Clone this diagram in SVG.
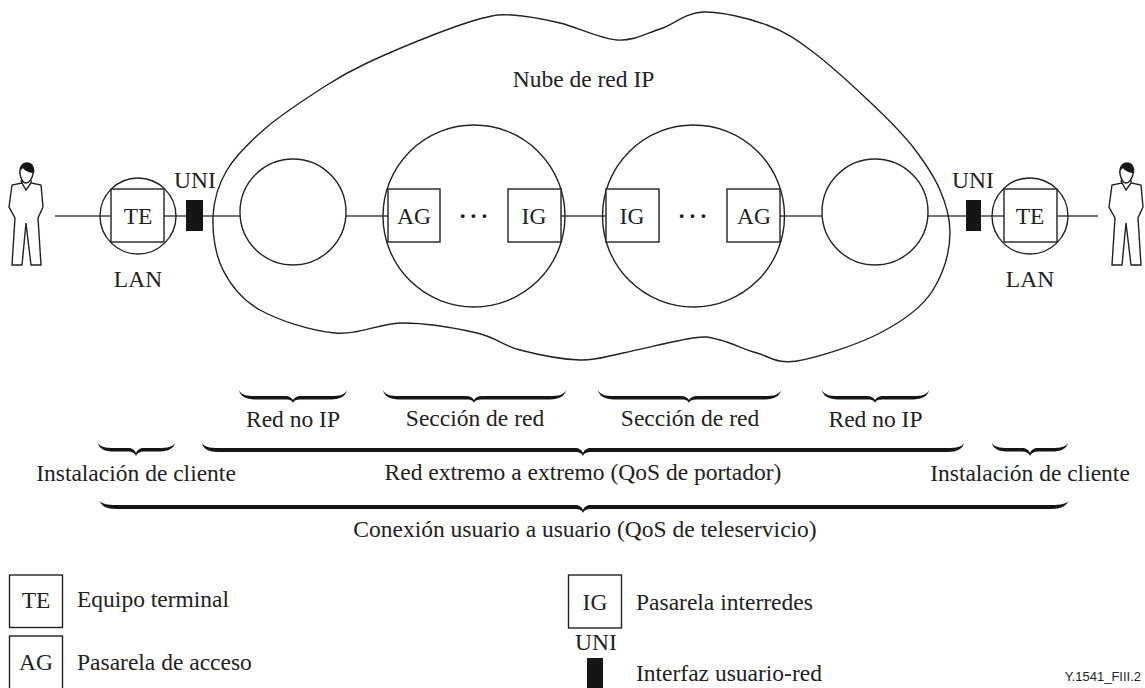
<svg xmlns="http://www.w3.org/2000/svg" width="1145" height="688" viewBox="0 0 1145 688">
<style>
text{font-family:"Liberation Serif","Times New Roman",serif;font-size:23.5px;fill:#222;text-anchor:middle}
.l{text-anchor:start}
.d{font-weight:bold;letter-spacing:3px}
.s{fill:#fff;stroke:#222;stroke-width:1.4}
.n{fill:none;stroke:#222;stroke-width:1.4}
.b{fill:#151515}
.c{fill:none;stroke:#444;stroke-width:1.6}
</style>
<defs>
<g id="person"><path class="n" d="M20 174C19 167 23 163 27 163C32 163 35 168 33 174C32 179 29 183 26 183C23 183 21 179 20 174Z"/><path class="b" d="M20 171C20 165 24 163 27 163C32 163 34 168 33 173C29 173 24 170 23 168C22 169 21 170 20 171Z"/><path class="n" d="M21 180L22 183L12 185L9 207L15 218L12 265H22L26 223L31 265H41L38 218L43 207L41 185L31 183L31 180M22 183L26 190L31 183"/></g>
</defs>
<g id="connectors">
<path class="c" d="M55 216H111M164 216H186M203 216H240M346 216H388M561 216H606M780 216H822M928 216H966M981 216H1004M1057 216H1098"/>
</g>
<g id="cloud"><path class="n" d="M213 217C213.7 200.3 218 185 227 170S250.3 141.2 267 127S310.3 95.7 327 85S349.3 71.3 367 63S413.7 42.5 433 35S469.8 21.3 483 18S499.2 14.2 512 15S542.5 18.8 560 23S600.3 39 617 40S645.7 33.7 660 29S685.2 12.7 703 12S748.7 18.3 767 25S795.8 39.2 813 52S853.3 86.2 870 102S900.2 130.7 913 147C926 164 934 176 940 190C946 204 950 218 950 232C950 254 944 272 933 290S902.7 321.2 880 333S817.5 357.7 797 361S769.8 356.5 757 353S730.7 342.5 720 340S709.2 335.8 693 338S641.8 349.3 623 353S597.2 360.5 580 360S537.2 354.5 520 350S496.5 337.5 477 333S426.7 323 403 323S358.8 335.2 335 333S278.7 320.5 260 310S230.8 285.5 223 270S212.3 233.7 213 217Z"/><text x="583.5" y="87">Nube de red IP</text></g>
<g id="lan-left"><circle class="n" cx="138" cy="216" r="38"/><rect class="s" x="111" y="189" width="53" height="53"/><text x="138" y="224">TE</text><text x="138" y="287">LAN</text></g>
<g id="uni-left"><rect class="b" x="186" y="200" width="17" height="31"/><text x="195" y="188">UNI</text></g>
<g id="noip-left"><circle class="n" cx="293" cy="212" r="53"/></g>
<g id="section-left"><circle class="n" cx="474" cy="216" r="91"/><rect class="s" x="388" y="189" width="52" height="53"/><text x="414" y="224">AG</text><rect class="s" x="508" y="189" width="53" height="53"/><text x="534" y="224">IG</text><text class="d" x="475" y="224">···</text></g>
<g id="section-right"><circle class="n" cx="693.5" cy="216" r="91"/><rect class="s" x="606" y="189" width="53" height="53"/><text x="632" y="224">IG</text><rect class="s" x="727" y="189" width="53" height="53"/><text x="754" y="224">AG</text><text class="d" x="694" y="224">···</text></g>
<g id="noip-right"><circle class="n" cx="875" cy="212" r="53"/></g>
<g id="uni-right"><rect class="b" x="966" y="200" width="15" height="31"/><text x="973" y="188">UNI</text></g>
<g id="lan-right"><circle class="n" cx="1030" cy="216" r="38"/><rect class="s" x="1004" y="189" width="53" height="53"/><text x="1030" y="224">TE</text><text x="1030" y="287">LAN</text></g>
<use id="person-left" href="#person"/>
<use id="person-right" href="#person" transform="translate(1100 0)"/>
<g id="braces">
<path class="b" d="M239 390C241 395 247 396 255 396H285C289 396 292 398 293 400C294 398 297 396 301 396H331C339 396 345 395 347 390C346 396 340 399.5 331 399.5H301C297 399.5 294 400 293 403C292 400 289 399.5 285 399.5H255C246 399.5 240 396 239 390Z"/>
<path class="b" d="M383 390C385 395 391 396 399 396H466C470 396 473 398 474 400C475 398 478 396 482 396H550C558 396 564 395 566 390C565 396 559 399.5 550 399.5H482C478 399.5 475 400 474 403C473 400 470 399.5 466 399.5H399C390 399.5 384 396 383 390Z"/>
<path class="b" d="M598 390C600 395 606 396 614 396H681C685 396 688 398 689 400C690 398 693 396 697 396H765C773 396 779 395 781 390C780 396 774 399.5 765 399.5H697C693 399.5 690 400 689 403C688 400 685 399.5 681 399.5H614C605 399.5 599 396 598 390Z"/>
<path class="b" d="M822 390C824 395 830 396 838 396H867C871 396 874 398 875 400C876 398 879 396 883 396H913C921 396 927 395 929 390C928 396 922 399.5 913 399.5H883C879 399.5 876 400 875 403C874 400 871 399.5 867 399.5H838C829 399.5 823 396 822 390Z"/>
<path class="b" d="M98 443C100 447 106 448 114 448H128C132 448 135 450 136 453C137 450 140 448 144 448H159C167 448 173 447 175 443C174 449 167 451.5 159 451.5H144C140 451.5 137 453 136 456C135 453 132 451.5 128 451.5H114C105 451.5 99 449 98 443Z"/>
<path class="b" d="M202 443C204 447 210 448 218 448H575C579 448 582 450 583 453C584 450 587 448 591 448H948C956 448 962 447 964 443C963 449 956 452 948 452H591C587 452 584 453 583 456C582 453 579 452 575 452H218C209 452 203 449 202 443Z"/>
<path class="b" d="M992 443C994 447 1000 448 1008 448H1022C1026 448 1029 450 1030 453C1031 450 1034 448 1038 448H1052C1060 448 1066 447 1068 443C1067 449 1060 451.5 1052 451.5H1038C1034 451.5 1031 453 1030 456C1029 453 1026 451.5 1022 451.5H1008C999 451.5 993 449 992 443Z"/>
<path class="b" d="M100 501C102 504 108 505 116 505H575C579 505 582 507 583 510C584 507 587 505 591 505H1052C1060 505 1066 504 1068 501C1067 506 1060 509 1052 509H591C587 509 584 510 583 513C582 510 579 509 575 509H116C107 509 101 506 100 501Z"/>
</g>
<g id="labels">
<text x="293" y="427">Red no IP</text><text x="475" y="426">Sección de red</text><text x="690" y="426">Sección de red</text><text x="875.5" y="427">Red no IP</text>
<text x="136" y="481">Instalación de cliente</text><text x="583" y="480">Red extremo a extremo (QoS de portador)</text><text x="1030" y="481">Instalación de cliente</text>
<text x="585" y="537">Conexión usuario a usuario (QoS de teleservicio)</text>
</g>
<g id="legend-te"><rect class="s" x="9.5" y="575" width="53" height="52.5"/><text x="36" y="608">TE</text><text class="l" x="77" y="607">Equipo terminal</text></g>
<g id="legend-ag"><rect class="s" x="9.5" y="636" width="53" height="60"/><text x="36" y="670">AG</text><text class="l" x="77" y="670">Pasarela de acceso</text></g>
<g id="legend-ig"><rect class="s" x="568.5" y="575" width="53" height="53"/><text x="595" y="610">IG</text><text class="l" x="636" y="610">Pasarela interredes</text></g>
<g id="legend-uni"><text x="596" y="650">UNI</text><rect class="b" x="587" y="658" width="16" height="30"/><text class="l" x="636" y="681">Interfaz usuario-red</text></g>
<text x="1141" y="681" style="font-family:'Liberation Sans',Arial,sans-serif;font-size:13px;text-anchor:end">Y.1541_FIII.2</text>
</svg>
